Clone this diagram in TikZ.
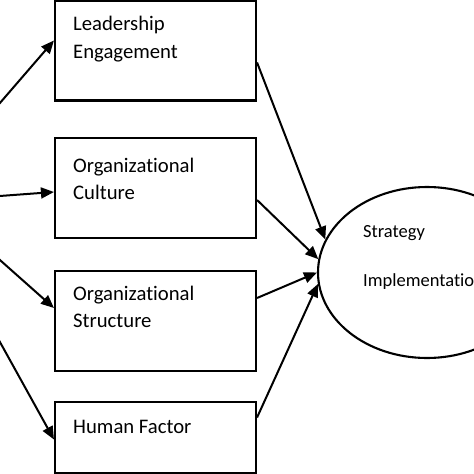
\documentclass[tikz,border=0pt]{standalone}
\usepackage{fontspec}
\setmainfont{Carlito}[Ligatures=NoCommon]
\usetikzlibrary{arrows.meta,shapes.geometric}

\begin{document}
\begin{tikzpicture}[x=1pt,y=-1pt,
    box/.style={draw, line width=2.1pt, minimum width=201pt, minimum height=100pt, inner sep=0pt},
    lbl/.style={anchor=base west, inner sep=0pt, align=left, font=\fontsize{20.7}{28}\selectfont},
    arr/.style={line width=2pt, -{Triangle[length=13pt,width=11pt]}}]
            \useasboundingbox (0,0) rectangle (474,474);
            % factor boxes
            \node[box] (lead) at (155.5,50.5) {};
            \node[box] (cult) at (155.5,188) {};
            \node[box] (struc) at (155.5,321) {};
            \node[box, minimum height=71pt] (human) at (155.5,437.5) {};
            \node[lbl] at (73,30) {Leadership};
            \node[lbl] at (73,58) {Engagement};
            \node[lbl] at (73,172) {Organizational};
            \node[lbl] at (73,199) {Culture};
            \node[lbl] at (73,300) {Organizational};
            \node[lbl] at (73,327) {Structure};
            \node[lbl] at (73,433) {Human Factor};
            % outcome
            \node[draw, ellipse, line width=2.1pt, minimum width=218pt, minimum height=171pt, inner sep=0pt] (strat) at (427,272.5) {};
            \node[anchor=base west, inner sep=0pt, font=\fontsize{18.5}{20}\selectfont] at (363,237) {Strategy};
            \node[anchor=base west, inner sep=0pt, font=\fontsize{18.5}{20}\selectfont] at (363,286) {Implementation};
            % incoming from the left
            \coordinate (in1) at (-3,106.4);
            \coordinate (in2) at (-3,196.2);
            \coordinate (in3) at (-3,257.4);
            \coordinate (in4) at (-3,336.7);
            \draw[arr] (in1) -- ([yshift=10pt]lead.west);
            \draw[arr] (in2) -- ([yshift=-4pt]cult.west);
            \draw[arr] (in3) -- ([yshift=13pt]struc.west);
            \draw[arr] (in4) -- ([yshift=-2pt]human.west);
            % into the ellipse
            \draw[arr] ([yshift=-12pt]lead.east) -- (strat.162);
            \draw[arr] ([yshift=-12pt]cult.east) -- (strat.173);
            \draw[arr] ([yshift=23pt]struc.east) -- (strat.180);
            \draw[arr] ([yshift=20pt]human.east) -- (strat.186);
        \end{tikzpicture}
\end{document}
